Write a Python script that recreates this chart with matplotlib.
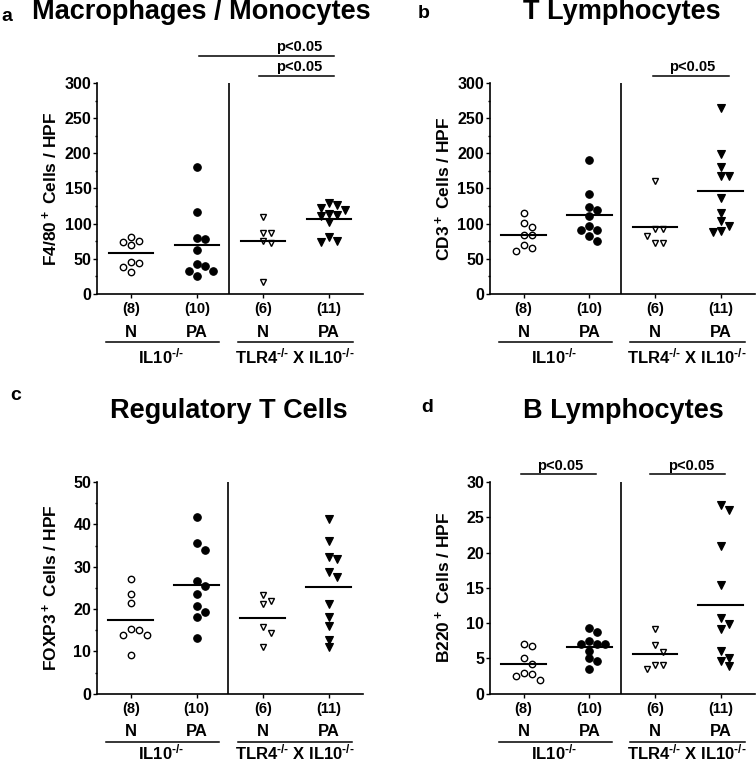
import numpy as np
import matplotlib
matplotlib.use('Agg')
import matplotlib.pyplot as plt

plt.rcParams['font.family'] = ['Liberation Sans', 'DejaVu Sans']
plt.rcParams['font.weight'] = 'bold'
plt.rcParams['mathtext.fontset'] = 'custom'
plt.rcParams['mathtext.rm'] = 'Liberation Sans:bold'
plt.rcParams['mathtext.bf'] = 'Liberation Sans:bold'
plt.rcParams['mathtext.default'] = 'bf'

# values (cells / HPF)
mac_il10_n = [81, 76, 74, 70, 46, 44, 39, 31]
mac_il10_pa = [181, 116, 80, 77.5, 62, 42, 40, 33, 33, 26]
mac_tlr4_n = [109, 87, 87, 76, 73, 17]
mac_tlr4_pa = [129, 127, 122.5, 119.5, 114, 113, 110.5, 103, 81, 76, 74]

t_il10_n = [115, 101, 95, 84, 84, 70, 65, 61]
t_il10_pa = [190, 142, 124, 119, 111, 97, 91, 91, 83, 76]
t_tlr4_n = [161, 92, 92, 82, 72, 72]
t_tlr4_pa = [264, 199, 180.5, 168, 168, 137, 115, 104, 96, 90, 87.5]

treg_il10_n = [27.2, 23.6, 21.5, 15.2, 15, 13.8, 13.8, 9.2]
treg_il10_pa = [41.8, 35.5, 34, 26.6, 25.4, 23.5, 20.7, 19.3, 18, 13.1]
treg_tlr4_n = [23.4, 21.8, 21.3, 15.7, 14.4, 11]
treg_tlr4_pa = [41.2, 36.1, 32.3, 31.9, 28.7, 27.6, 21.3, 18.1, 15.9, 12.8, 11]

b_il10_n = [7.1, 6.75, 5, 4.25, 2.95, 2.75, 2.45, 1.9]
b_il10_pa = [9.3, 8.8, 7.5, 7.05, 7.05, 7.05, 6.1, 5.0, 4.6, 3.45]
b_tlr4_n = [9.1, 6.95, 5.9, 4.1, 4.0, 3.45]
b_tlr4_pa = [26.8, 26.1, 20.9, 15.35, 10.7, 9.9, 9.1, 6.0, 5.05, 4.7, 3.9]

treatments = ['N', 'PA', 'N', 'PA']
# U+2010 hyphen so mathtext keeps a short dash instead of a minus sign
strains = ['IL10$^{\u2010/\u2010}$', 'TLR4$^{\u2010/\u2010}$ X IL10$^{\u2010/\u2010}$']

titles = ['Macrophages / Monocytes', 'T Lymphocytes', 'Regulatory T Cells', 'B Lymphocytes']
letters = ['a', 'b', 'c', 'd']
ylabels = [r'F4/80$^+$ Cells / HPF', r'CD3$^+$ Cells / HPF',
           r'FOXP3$^+$ Cells / HPF', r'B220$^+$ Cells / HPF']
ymax = [300, 300, 50, 30]
ystep = [50, 50, 10, 5]
yminor = [25, 25, 5, None]

# significance bars: (x start, x end, y, text x)
sig_a = [(2.03, 4.08, 338.4, 3.55), (2.94, 4.08, 310, 3.55)]
sig_b = [(2.965, 4.12, 310, 3.56)]
sig_c = []
sig_d = [(0.96, 2.10, 31.1, 1.55), (2.93, 4.07, 31.1, 3.55)]

panels = [
    [mac_il10_n, mac_il10_pa, mac_tlr4_n, mac_tlr4_pa],
    [t_il10_n, t_il10_pa, t_tlr4_n, t_tlr4_pa],
    [treg_il10_n, treg_il10_pa, treg_tlr4_n, treg_tlr4_pa],
    [b_il10_n, b_il10_pa, b_tlr4_n, b_tlr4_pa],
]
sigs = [sig_a, sig_b, sig_c, sig_d]

# marker style per group
styles = [
    dict(marker='o', mfc='white', mec='black', ms=4.6, mew=1.0),
    dict(marker='o', mfc='black', mec='black', ms=5.4, mew=0.8),
    dict(marker='v', mfc='white', mec='black', ms=5.0, mew=1.0),
    dict(marker='v', mfc='black', mec='black', ms=5.6, mew=0.8),
]

axes_pos = [
    [0.1283, 0.6152, 0.3519, 0.2762],
    [0.6478, 0.6152, 0.3505, 0.2762],
    [0.1279, 0.0920, 0.3519, 0.2771],
    [0.6478, 0.0920, 0.3505, 0.2771],
]
strain_y = [-0.327, -0.327, -0.312, -0.312]
title_xy = [(201, 19), (622, 19), (229, 418), (623, 418)]
letter_xy = [(1, 21), (418, 18), (10, 400), (421, 412)]

W, H = 756.0, 764.0


def swarm_offsets(ax, vals, slot_px=8.0, gap_px=7.5):
    # simple column swarm, done in pixel space
    vals = np.asarray(vals, dtype=float)
    ypx = ax.transData.transform(np.column_stack([np.ones(len(vals)), vals]))[:, 1]
    p = ax.transData.transform([(1, 0), (2, 0)])
    px_per_unit = p[1, 0] - p[0, 0]
    offs = np.zeros(len(vals))
    used = {}
    for i in np.argsort(-vals, kind='stable'):
        for s in [0, 1, -1, 2, -2, 3, -3]:
            if all(abs(ypx[i] - ypx[j]) >= gap_px for j in used.get(s, [])):
                break
        used.setdefault(s, []).append(i)
        offs[i] = s
    return offs * slot_px / px_per_unit


fig = plt.figure(figsize=(7.56, 7.64), dpi=100)

for k in range(4):
    ax = fig.add_axes(axes_pos[k])
    ax.set_xlim(0.485, 4.515)
    ax.set_ylim(0, ymax[k])
    ax.spines['top'].set_visible(False)
    ax.spines['right'].set_visible(False)
    ax.spines['left'].set_linewidth(1.2)
    ax.spines['bottom'].set_linewidth(1.2)

    ax.set_yticks(np.arange(0, ymax[k] + 0.01, ystep[k]))
    if yminor[k]:
        ax.set_yticks(np.arange(0, ymax[k] + 0.01, yminor[k]), minor=True)
    ax.set_xticks([1, 2, 3, 4])
    ax.set_xticklabels([])
    ax.tick_params(axis='y', which='major', length=3, width=1.0, pad=1, labelsize=11.5)
    ax.tick_params(axis='y', which='minor', length=1.5, width=1.0)
    ax.tick_params(axis='x', which='major', length=3, width=1.0)

    ax.text(-0.175, 0.5, ylabels[k], rotation=90, transform=ax.transAxes,
            ha='center', va='center', fontsize=12.5)

    # divider between strains
    ax.axvline(2.48, color='black', lw=1.2)

    for g in range(4):
        vals = panels[k][g]
        xs = (g + 1) + swarm_offsets(ax, vals)
        ax.plot(xs, vals, linestyle='none', clip_on=False, **styles[g])
        m = np.mean(vals)
        ax.plot([g + 1 - 0.34, g + 1 + 0.34], [m, m], color='black', lw=1.5)

        tr = ax.get_xaxis_transform()
        ax.text(g + 1, -0.0915, '(%d)' % len(vals), transform=tr,
                ha='center', va='baseline', fontsize=10.5)
        ax.text(g + 1, -0.202, treatments[g], transform=tr,
                ha='center', va='baseline', fontsize=12)

    tr = ax.get_xaxis_transform()
    ax.plot([0.62, 2.34], [-0.227, -0.227], transform=tr, color='black', lw=1.1, clip_on=False)
    ax.plot([2.62, 4.36], [-0.227, -0.227], transform=tr, color='black', lw=1.1, clip_on=False)
    ax.text(1.46, strain_y[k], strains[0], transform=tr, ha='center', va='baseline', fontsize=12)
    ax.text(3.48, strain_y[k], strains[1], transform=tr, ha='center', va='baseline', fontsize=12)

    for x0, x1, y, xt in sigs[k]:
        ax.plot([x0, x1], [y, y], color='black', lw=1.1, clip_on=False)
        ax.annotate('p<0.05', xy=(xt, y), xytext=(0, 3.4), textcoords='offset points',
                    ha='center', va='baseline', fontsize=10.5, annotation_clip=False)

    tx, ty = title_xy[k]
    fig.text(tx / W, 1 - ty / H, titles[k], ha='center', va='baseline', fontsize=19.5)
    lx, ly = letter_xy[k]
    fig.text(lx / W, 1 - ly / H, letters[k], ha='left', va='baseline', fontsize=14)

fig.savefig('out.png', dpi=100)
